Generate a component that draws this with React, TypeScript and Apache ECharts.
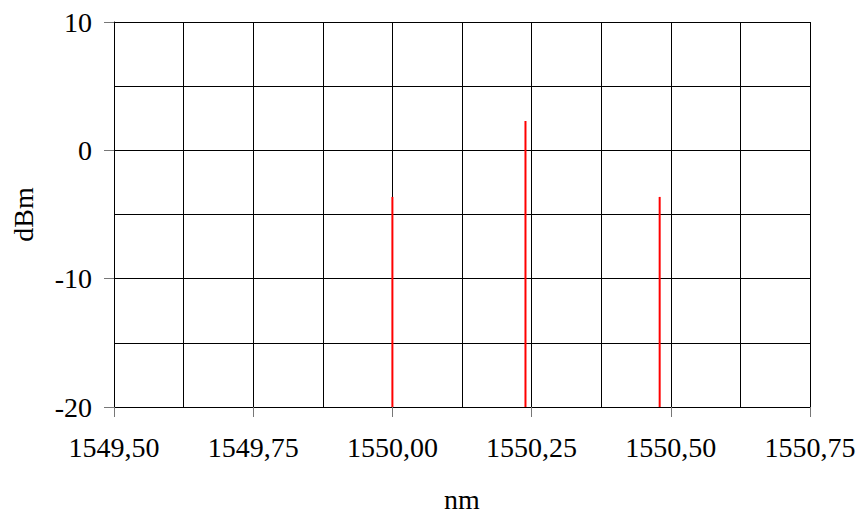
import React, { useEffect, useRef } from "react";
import * as echarts from "echarts";

const wavelengths = [1550.0, 1550.239, 1550.48];
const powers = [-3.63, 2.29, -3.63];
const xTicks = { min: 1549.5, max: 1550.75, step: 0.25 };
const yTicks = { min: -20, max: 10, step: 10 };
const baseLevel = -20;

export default function App() {
  const ref = useRef<HTMLDivElement>(null);
  useEffect(() => {
    if (!ref.current) return;
    const chart = echarts.init(ref.current, null, { renderer: "svg" });
    const font = "Liberation Serif";
    chart.setOption({
      animation: false,
      backgroundColor: "#ffffff",
      grid: { left: 114, right: 51, top: 22, bottom: 111, containLabel: false },
      xAxis: {
        type: "value",
        min: xTicks.min,
        max: xTicks.max,
        interval: xTicks.step,
        name: "nm",
        nameLocation: "middle",
        nameGap: 78,
        nameTextStyle: { fontFamily: font, fontSize: 28, color: "#000" },
        axisLine: { show: true, onZero: false, lineStyle: { color: "#000", width: 1 } },
        axisTick: { show: true, length: 10, lineStyle: { color: "#777" } },
        axisLabel: {
          margin: 26,
          fontFamily: font,
          fontSize: 28,
          color: "#000",
          formatter: (v: number) => v.toFixed(2).replace(".", ","),
        },
        splitLine: { show: true, lineStyle: { color: "#000", width: 1 } },
        minorTick: { show: false, splitNumber: 2 },
        minorSplitLine: { show: true, lineStyle: { color: "#000", width: 1 } },
      },
      yAxis: {
        type: "value",
        min: yTicks.min,
        max: yTicks.max,
        interval: yTicks.step,
        name: "dBm",
        nameLocation: "middle",
        nameGap: 77,
        nameTextStyle: { fontFamily: font, fontSize: 28, color: "#000" },
        axisLine: { show: true, onZero: false, lineStyle: { color: "#000", width: 1 } },
        axisTick: { show: true, length: 10, lineStyle: { color: "#777" } },
        axisLabel: { margin: 22, fontFamily: font, fontSize: 28, color: "#000" },
        splitLine: { show: true, lineStyle: { color: "#000", width: 1 } },
        minorTick: { show: false, splitNumber: 2 },
        minorSplitLine: { show: true, lineStyle: { color: "#000", width: 1 } },
      },
      series: [
        {
          type: "custom",
          data: wavelengths.map((w, i) => [w, powers[i]]),
          renderItem: (_params: any, api: any) => {
            const top = api.coord([api.value(0), api.value(1)]);
            const bot = api.coord([api.value(0), baseLevel]);
            return {
              type: "line",
              shape: { x1: top[0], y1: top[1], x2: bot[0], y2: bot[1] },
              style: { stroke: "#ff0000", lineWidth: 2 },
            };
          },
        },
      ],
    });
    return () => chart.dispose();
  }, []);
  return <div ref={ref} style={{ width: 861, height: 518, position: "absolute", left: 0, top: 0 }} />;
}
